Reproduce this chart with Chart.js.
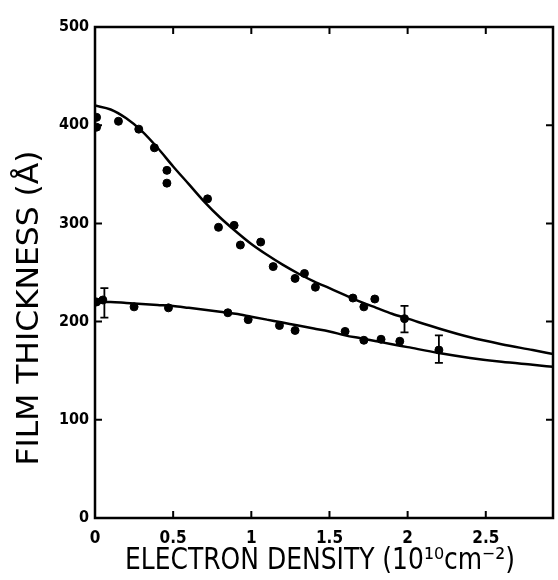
<!DOCTYPE html>
<html>
<head>
<meta charset="utf-8">
<title>Film thickness vs electron density</title>
<script src="https://cdn.jsdelivr.net/npm/chart.js@4.4.0/dist/chart.umd.min.js"></script>
<style>
html, body { margin: 0; padding: 0; background: #fff; }
#wrap { width: 558px; height: 580px; }
</style>
</head>
<body>
<div id="wrap"><canvas id="thickness"></canvas></div>
<script>
// upper set - measured points (x in 10^10 cm^-2, thickness in angstrom)
var upperX = [0.01, 0.01, 0.15, 0.28, 0.38, 0.46, 0.46, 0.72, 0.79, 0.89, 0.93, 1.06, 1.14, 1.28, 1.34, 1.41, 1.65, 1.72, 1.79, 1.98];
var upperY = [408, 398, 404, 396, 377, 354, 341, 325, 296, 298, 278, 281, 256, 244, 249, 235, 224, 215, 223, 203];

// lower set - measured points
var lowerX = [0.01, 0.05, 0.25, 0.47, 0.85, 0.98, 1.18, 1.28, 1.60, 1.72, 1.83, 1.95, 2.20];
var lowerY = [220, 222, 215, 214, 209, 202, 196, 191, 190, 181, 182, 180, 171];

// fitted curves
var fitX = [0, 0.1, 0.2, 0.3, 0.4, 0.5, 0.6, 0.7, 0.8, 0.9, 1.0, 1.1, 1.2, 1.3, 1.4, 1.5, 1.6, 1.7, 1.8, 1.9, 2.0, 2.2, 2.4, 2.6, 2.8, 2.93];
var upperFit = [420, 416, 407, 394, 377, 358, 340, 322, 306, 292, 279, 268, 258, 249, 241, 234, 227, 220, 214, 208, 203, 193, 184, 177, 171, 167];
var lowerFit = [220, 220, 219, 218, 217, 216, 214, 212, 210, 208, 205, 202, 199, 196, 193, 190, 186, 183, 180, 177, 174, 168, 163, 159, 156, 154];

// error bars
var errX = [0.06, 1.98, 2.20];
var errLow = [204, 189, 158];
var errHigh = [234, 216, 186];

// axes
var xTicks = [0, 0.5, 1, 1.5, 2, 2.5];
var yTicks = [0, 100, 200, 300, 400, 500];
var xTitle = "ELECTRON DENSITY (10\u00B9\u2070cm\u207B\u00B2)";
var yTitle = "FILM THICKNESS (\u00C5)";

var fontFam = "'DejaVu Sans Condensed', 'Liberation Sans Narrow', 'DejaVu Sans', sans-serif";

function toPts(xs, ys) {
    var out = [];
    for (var i = 0; i < xs.length; i++) out.push({x: xs[i], y: ys[i]});
    return out;
}

// draws text squeezed to a given width
function fitText(ctx, text, cx, cy, width, size) {
    ctx.font = size + "px " + fontFam;
    var w = ctx.measureText(text).width;
    ctx.save();
    ctx.translate(cx, cy);
    ctx.scale(width / w, 1);
    ctx.textAlign = "center";
    ctx.textBaseline = "middle";
    ctx.fillText(text, 0, 0);
    ctx.restore();
}

var framePlugin = {
    id: 'framePlugin',
    afterDatasetsDraw: function(chart) {
        var ctx = chart.ctx;
        var a = chart.chartArea;
        var xs = chart.scales.x, ys = chart.scales.y;
        ctx.save();
        ctx.strokeStyle = "#000";
        ctx.fillStyle = "#000";
        ctx.lineWidth = 2.5;
        ctx.strokeRect(a.left, a.top, a.right - a.left, a.bottom - a.top);

        // inward ticks on all four sides
        ctx.lineWidth = 2;
        ctx.beginPath();
        xTicks.forEach(function(v) {
            if (v <= 0) return;
            var px = xs.getPixelForValue(v);
            ctx.moveTo(px, a.bottom); ctx.lineTo(px, a.bottom - 7);
            ctx.moveTo(px, a.top); ctx.lineTo(px, a.top + 7);
        });
        yTicks.forEach(function(v) {
            if (v <= 0 || v >= 500) return;
            var py = ys.getPixelForValue(v);
            ctx.moveTo(a.left, py); ctx.lineTo(a.left + 7, py);
            ctx.moveTo(a.right, py); ctx.lineTo(a.right - 7, py);
        });
        ctx.stroke();

        // error bars
        ctx.lineWidth = 1.8;
        ctx.beginPath();
        for (var i = 0; i < errX.length; i++) {
            var px = xs.getPixelForValue(errX[i]);
            var y1 = ys.getPixelForValue(errLow[i]);
            var y2 = ys.getPixelForValue(errHigh[i]);
            ctx.moveTo(px, y1); ctx.lineTo(px, y2);
            ctx.moveTo(px - 4, y1); ctx.lineTo(px + 4, y1);
            ctx.moveTo(px - 4, y2); ctx.lineTo(px + 4, y2);
        }
        ctx.stroke();

        // axis titles
        fitText(ctx, xTitle, 320, 561, 390, 30);
        ctx.save();
        ctx.translate(30, 308);
        ctx.rotate(-Math.PI / 2);
        fitText(ctx, yTitle, 0, 0, 315, 31);
        ctx.restore();
        ctx.restore();
    }
};

var ctx = document.getElementById("thickness");

new Chart(ctx, {
    type: 'scatter',
    data: {
        datasets: [
            {
                data: toPts(fitX, upperFit),
                showLine: true,
                borderColor: "#000",
                borderWidth: 2.5,
                pointRadius: 0,
                cubicInterpolationMode: 'monotone'
            },
            {
                data: toPts(fitX, lowerFit),
                showLine: true,
                borderColor: "#000",
                borderWidth: 2.5,
                pointRadius: 0,
                cubicInterpolationMode: 'monotone'
            },
            {
                data: toPts(upperX, upperY),
                pointRadius: 4,
                backgroundColor: "#000",
                borderColor: "#000"
            },
            {
                data: toPts(lowerX, lowerY),
                pointRadius: 4,
                backgroundColor: "#000",
                borderColor: "#000"
            }
        ]
    },
    options: {
        responsive: true,
        maintainAspectRatio: false,
        animation: false,
        events: [],
        layout: { padding: { top: 27, right: 2, left: 0, bottom: 0 } },
        plugins: {
            legend: { display: false },
            tooltip: { enabled: false }
        },
        scales: {
            x: {
                type: 'linear',
                min: 0,
                max: 2.93,
                afterBuildTicks: function(scale) {
                    scale.ticks = xTicks.map(function(v) { return {value: v}; });
                },
                afterFit: function(scale) { scale.height = 62; },
                grid: { display: false, drawTicks: false },
                border: { display: false },
                ticks: {
                    padding: 10,
                    color: "#000",
                    maxRotation: 0,
                    font: { family: fontFam, size: 17, weight: 'bold' },
                    callback: function(v) { return String(v); }
                }
            },
            y: {
                type: 'linear',
                min: 0,
                max: 500,
                afterBuildTicks: function(scale) {
                    scale.ticks = yTicks.map(function(v) { return {value: v}; });
                },
                afterFit: function(scale) { scale.width = 95; },
                grid: { display: false, drawTicks: false },
                border: { display: false },
                ticks: {
                    padding: 6,
                    color: "#000",
                    font: { family: fontFam, size: 16, weight: 'bold' },
                    callback: function(v) { return String(v); }
                }
            }
        }
    },
    plugins: [framePlugin]
});
</script>
</body>
</html>
